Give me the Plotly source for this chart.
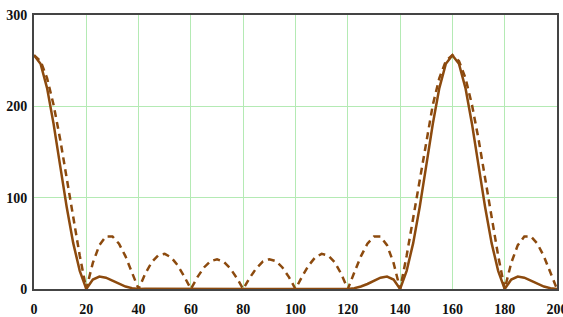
import plotly.graph_objects as go

x_vals = [i * 2.5 for i in range(81)]

dashed_vals = [
    256, 249.6, 230.9, 201.5, 164.0, 121.7, 78.0, 36.4, 0,
    28.6, 48.0, 57.5, 57.6, 49.6, 35.7, 18.2, 0,
    16.5, 29.3, 36.8, 38.5, 34.5, 25.7, 13.5, 0,
    13.0, 23.6, 30.5, 32.6, 29.9, 22.7, 12.3, 0,
    12.3, 22.7, 29.9, 32.6, 30.5, 23.6, 13.0, 0,
    13.5, 25.7, 34.5, 38.5, 36.8, 29.3, 16.5, 0,
    18.2, 35.7, 49.6, 57.6, 57.5, 48.0, 28.6, 0,
    36.4, 78.0, 121.7, 164.0, 201.5, 230.9, 249.6, 256,
    249.6, 230.9, 201.5, 164.0, 121.7, 78.0, 36.4, 0,
    28.6, 48.0, 57.5, 57.6, 49.6, 35.7, 18.2, 0,
]

solid_vals = [
    256, 246.6, 220.0, 180.7, 135.1, 89.8, 50.2, 19.9, 0,
    10.4, 13.7, 12.4, 9.1, 5.5, 2.7, 0.9, 0,
    0.3, 0.3, 0.2, 0.1, 0, 0, 0, 0,
    0, 0, 0, 0, 0, 0, 0, 0,
    0, 0, 0, 0, 0, 0, 0, 0,
    0, 0, 0, 0.1, 0.2, 0.3, 0.3, 0,
    0.9, 2.7, 5.5, 9.1, 12.4, 13.7, 10.4, 0,
    19.9, 50.2, 89.8, 135.1, 180.7, 220.0, 246.6, 256,
    246.6, 220.0, 180.7, 135.1, 89.8, 50.2, 19.9, 0,
    10.4, 13.7, 12.4, 9.1, 5.5, 2.7, 0.9, 0,
]

x_ticks = [0, 20, 40, 60, 80, 100, 120, 140, 160, 180, 200]
y_ticks = [0, 100, 200, 300]

brown = "#8c4a0e"

fig = go.Figure()
fig.add_trace(go.Scatter(x=x_vals, y=dashed_vals, mode="lines",
                         line=dict(color=brown, width=2.5, dash="7px,5px"),
                         showlegend=False, hoverinfo="skip"))
fig.add_trace(go.Scatter(x=x_vals, y=solid_vals, mode="lines",
                         line=dict(color=brown, width=2.5),
                         showlegend=False, hoverinfo="skip"))

tick_font = dict(family="Liberation Serif, Times New Roman, serif", size=14,
                 color="#111111", weight="bold")

fig.update_layout(
    width=563, height=317,
    margin=dict(l=34, r=6, t=15, b=28, autoexpand=False),
    paper_bgcolor="white", plot_bgcolor="white",
    xaxis=dict(range=[0, 200], tickvals=x_ticks, ticktext=[str(v) for v in x_ticks],
               showgrid=True, gridcolor="#b4eab4", gridwidth=1,
               showline=True, linecolor="#444444", linewidth=2, mirror=True,
               ticks="", tickfont=tick_font, zeroline=False, automargin=False,
               ticklabelstandoff=6, ticklabeloverflow="allow"),
    yaxis=dict(range=[0, 300], tickvals=y_ticks, ticktext=[str(v) for v in y_ticks],
               showgrid=True, gridcolor="#b4eab4", gridwidth=1,
               showline=True, linecolor="#444444", linewidth=2, mirror=True,
               ticks="", tickfont=tick_font, zeroline=False, automargin=False,
               ticklabelstandoff=2),
)

fig.write_html("out.html", config={"displayModeBar": False},
               post_script="document.body.style.margin='0';document.body.style.overflow='hidden';")
